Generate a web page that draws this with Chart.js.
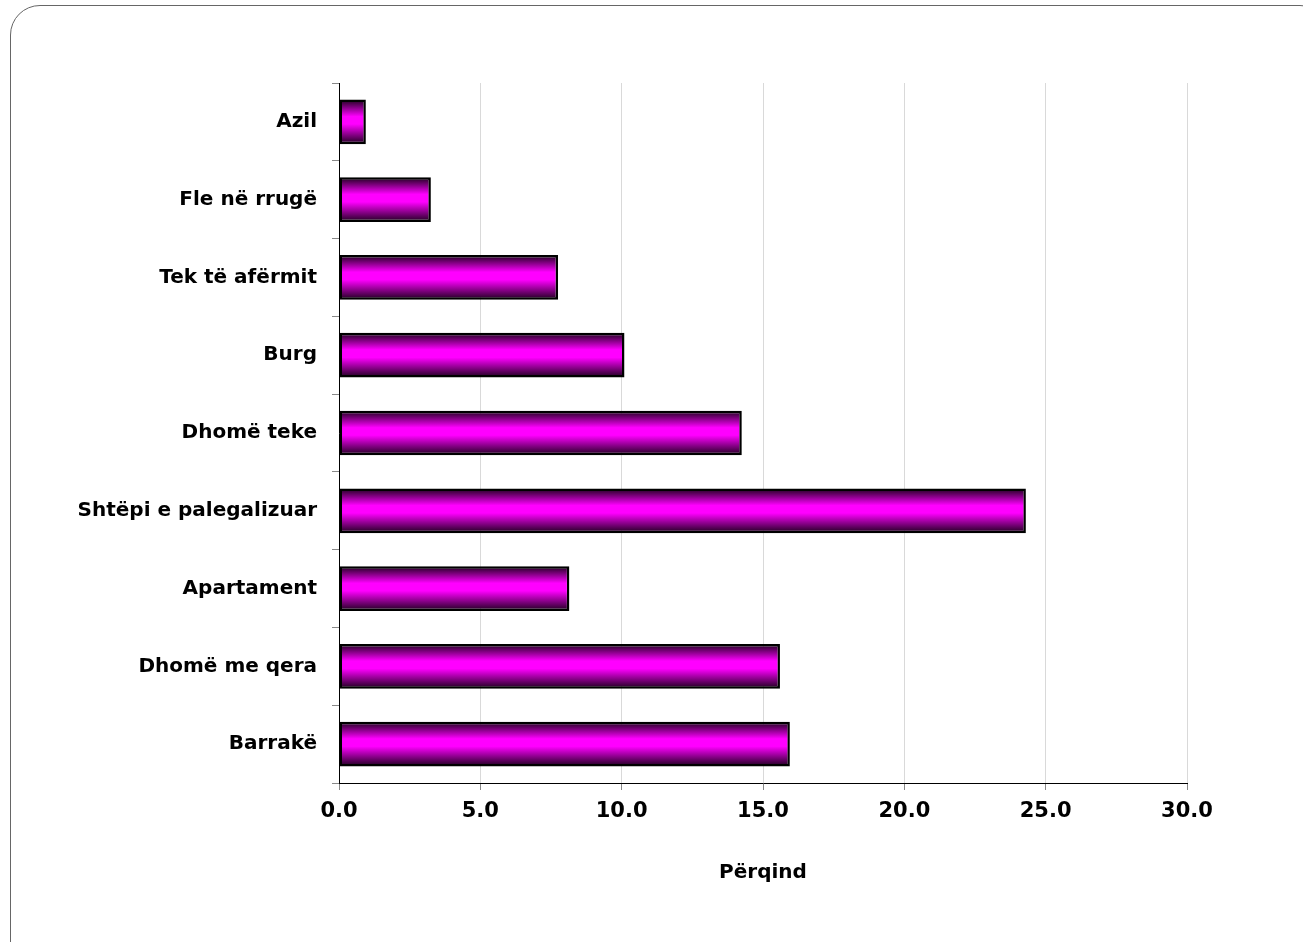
<!DOCTYPE html>
<html>
<head>
<meta charset="utf-8">
<script src="https://cdn.jsdelivr.net/npm/chart.js@4"></script>
<style>
    html, body { margin: 0; padding: 0; background: #fff; overflow: hidden; }
    #frame {
        position: absolute; left: 10px; top: 5px; width: 1320px; height: 980px;
        border: 1.5px solid #666; border-radius: 30px; box-sizing: border-box;
    }
    #wrap { position: absolute; left: 0; top: 0; width: 1303px; height: 942px; }
</style>
</head>
<body>
<div id="frame"></div>
<div id="wrap"><canvas id="housingChart"></canvas></div>
<script>
const categories = ['Azil', 'Fle në rrugë', 'Tek të afërmit', 'Burg', 'Dhomë teke',
    'Shtëpi e palegalizuar', 'Apartament', 'Dhomë me qera', 'Barrakë'];
const percentages = [0.95, 3.25, 7.75, 10.1, 14.25, 24.3, 8.15, 15.6, 15.95];
const xTicks = [0, 5, 10, 15, 20, 25, 30];
const xTitle = 'Përqind';

const ctx = document.getElementById('housingChart').getContext('2d');
const fontFamily = '"DejaVu Sans", Verdana, sans-serif';

// vertical dark-magenta-dark gradient for each bar, set right before drawing
const barGradient = {
    id: 'barGradient',
    beforeDatasetsDraw(chart) {
        const meta = chart.getDatasetMeta(0);
        meta.data.forEach(bar => {
            const half = bar.height / 2;
            if (!isFinite(bar.y) || !isFinite(half)) {
                return;
            }
            const g = chart.ctx.createLinearGradient(0, bar.y - half, 0, bar.y + half);
            g.addColorStop(0, '#1a001a');
            g.addColorStop(0.38, '#ff00ff');
            g.addColorStop(0.55, '#ff00ff');
            g.addColorStop(1, '#1a001a');
            // options object is shared between bars, so give each its own copy
            bar.options = Object.assign({}, bar.options, { backgroundColor: g });
        });
    }
};

new Chart(ctx, {
    type: 'bar',
    data: {
        labels: categories,
        datasets: [{
            data: percentages,
            backgroundColor: '#ff00ff',
            borderColor: '#000',
            borderWidth: 2.5,
            borderSkipped: false,
            categoryPercentage: 1,
            barPercentage: 0.575
        }]
    },
    options: {
        indexAxis: 'y',
        responsive: true,
        maintainAspectRatio: false,
        animation: false,
        layout: {
            padding: { top: 83, right: 116, left: 0, bottom: 0 }
        },
        plugins: {
            legend: { display: false },
            tooltip: { enabled: false }
        },
        scales: {
            x: {
                min: 0,
                max: 30,
                afterFit: function (scale) { scale.height = 159; },
                afterBuildTicks: function (scale) {
                    scale.ticks = xTicks.map(v => ({ value: v }));
                },
                border: { color: '#000', width: 1 },
                grid: {
                    color: '#d9d9d9',
                    tickColor: '#888',
                    tickLength: 7
                },
                ticks: {
                    color: '#000',
                    padding: 9,
                    font: { family: fontFamily, size: 21, weight: 'bold' },
                    callback: function (value) { return value.toFixed(1); }
                },
                title: {
                    display: true,
                    text: xTitle,
                    color: '#000',
                    font: { family: fontFamily, size: 20, weight: 'bold' },
                    padding: { top: 30, bottom: 57 }
                }
            },
            y: {
                afterFit: function (scale) { scale.width = 339; },
                border: { color: '#000', width: 1 },
                grid: {
                    drawOnChartArea: false,
                    offset: true,
                    tickColor: '#888',
                    tickLength: 7
                },
                ticks: {
                    color: '#000',
                    padding: 15,
                    font: { family: fontFamily, size: 20, weight: 'bold' }
                }
            }
        }
    },
    plugins: [barGradient]
});
</script>
</body>
</html>
